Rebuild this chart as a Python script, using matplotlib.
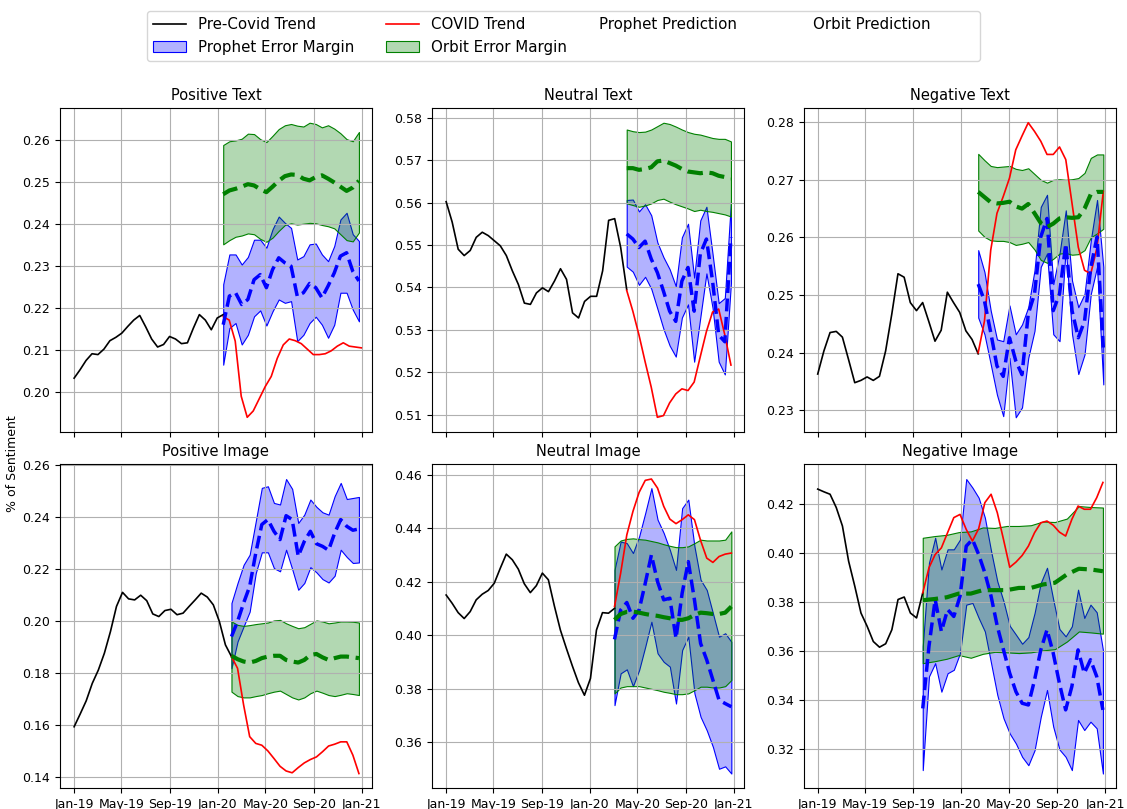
import matplotlib
matplotlib.use("Agg")
import matplotlib.pyplot as plt
import matplotlib.dates as mdates
import pandas as pd
from matplotlib.lines import Line2D
from matplotlib.legend_handler import HandlerBase

# ---------------- Positive Text ----------------
pos_text_pre_span = ("2019-01-01", "2020-01-15")
pos_text_pre = [0.2033, 0.2053, 0.2075, 0.2091, 0.2089, 0.2102, 0.2122, 0.2130, 0.2140,
                0.2156, 0.2171, 0.2182, 0.2155, 0.2126, 0.2107, 0.2113, 0.2132, 0.2126,
                0.2115, 0.2117, 0.2152, 0.2184, 0.2171, 0.2148, 0.2176, 0.2184]
pos_text_covid_span = ("2020-01-15", "2020-12-31")
pos_text_covid = [0.2179, 0.2171, 0.2121, 0.1990, 0.1940, 0.1955, 0.1984, 0.2013, 0.2037,
                  0.2080, 0.2112, 0.2126, 0.2122, 0.2115, 0.2102, 0.2089, 0.2089, 0.2091,
                  0.2098, 0.2109, 0.2117, 0.2109, 0.2107, 0.2105]
pos_text_fc_span = ("2020-01-15", "2020-12-25")
pos_text_prophet = [0.2160, 0.2228, 0.2236, 0.2208, 0.2220, 0.2267, 0.2279, 0.2248, 0.2291,
                    0.2319, 0.2307, 0.2299, 0.2228, 0.2236, 0.2258, 0.2248, 0.2224, 0.2252,
                    0.2283, 0.2323, 0.2331, 0.2287, 0.2264]
pos_text_prophet_hi = [0.2256, 0.2327, 0.2327, 0.2303, 0.2321, 0.2362, 0.2362, 0.2343, 0.2387,
                       0.2417, 0.2402, 0.2390, 0.2315, 0.2323, 0.2351, 0.2353, 0.2327, 0.2311,
                       0.2347, 0.2410, 0.2426, 0.2375, 0.2359]
pos_text_prophet_lo = [0.2065, 0.2152, 0.2164, 0.2113, 0.2136, 0.2180, 0.2194, 0.2158, 0.2192,
                       0.2220, 0.2212, 0.2216, 0.2121, 0.2136, 0.2164, 0.2179, 0.2160, 0.2129,
                       0.2160, 0.2236, 0.2236, 0.2196, 0.2168]
pos_text_orbit = [0.2470, 0.2479, 0.2483, 0.2488, 0.2494, 0.2491, 0.2482, 0.2475, 0.2488,
                  0.2502, 0.2513, 0.2517, 0.2516, 0.2507, 0.2503, 0.2511, 0.2515, 0.2507,
                  0.2498, 0.2488, 0.2478, 0.2486, 0.2502]
pos_text_orbit_hi = [0.2587, 0.2596, 0.2598, 0.2602, 0.2614, 0.2613, 0.2601, 0.2594, 0.2609,
                     0.2625, 0.2634, 0.2637, 0.2633, 0.2631, 0.2640, 0.2637, 0.2629, 0.2634,
                     0.2626, 0.2615, 0.2601, 0.2596, 0.2618]
pos_text_orbit_lo = [0.2351, 0.2361, 0.2369, 0.2372, 0.2377, 0.2375, 0.2364, 0.2357, 0.2367,
                     0.2383, 0.2397, 0.2401, 0.2398, 0.2400, 0.2402, 0.2401, 0.2397, 0.2394,
                     0.2389, 0.2375, 0.2361, 0.2358, 0.2379]

# ---------------- Neutral Text ----------------
neu_text_pre_span = ("2019-01-01", "2020-04-04")
neu_text_pre = [0.5602, 0.5554, 0.5490, 0.5475, 0.5487, 0.5518, 0.5530, 0.5522, 0.5510,
                0.5498, 0.5475, 0.5439, 0.5407, 0.5363, 0.5360, 0.5387, 0.5399, 0.5390,
                0.5415, 0.5444, 0.5419, 0.5340, 0.5328, 0.5367, 0.5379, 0.5379, 0.5439,
                0.5558, 0.5562, 0.5494, 0.5395]
neu_text_covid_span = ("2020-04-04", "2020-12-25")
neu_text_covid = [0.5393, 0.5344, 0.5288, 0.5225, 0.5165, 0.5094, 0.5098, 0.5128, 0.5149,
                  0.5161, 0.5157, 0.5177, 0.5237, 0.5296, 0.5342, 0.5349, 0.5288, 0.5217]
neu_text_fc_span = ("2020-04-04", "2020-12-25")
neu_text_prophet = [0.5526, 0.5514, 0.5494, 0.5509, 0.5467, 0.5435, 0.5391, 0.5344, 0.5320,
                    0.5415, 0.5447, 0.5344, 0.5479, 0.5514, 0.5415, 0.5288, 0.5272, 0.5518]
neu_text_prophet_hi = [0.5606, 0.5607, 0.5579, 0.5596, 0.5570, 0.5506, 0.5471, 0.5443, 0.5403,
                       0.5518, 0.5550, 0.5423, 0.5558, 0.5590, 0.5479, 0.5363, 0.5375, 0.5602]
neu_text_prophet_lo = [0.5449, 0.5437, 0.5406, 0.5425, 0.5397, 0.5350, 0.5302, 0.5263, 0.5237,
                       0.5329, 0.5360, 0.5225, 0.5329, 0.5433, 0.5352, 0.5225, 0.5195, 0.5411]
neu_text_orbit = [0.5681, 0.5681, 0.5677, 0.5679, 0.5683, 0.5697, 0.5699, 0.5693, 0.5687,
                  0.5679, 0.5673, 0.5671, 0.5669, 0.5671, 0.5669, 0.5663, 0.5660, 0.5657]
neu_text_orbit_hi = [0.5772, 0.5768, 0.5766, 0.5767, 0.5772, 0.5780, 0.5788, 0.5785, 0.5779,
                     0.5772, 0.5766, 0.5762, 0.5760, 0.5756, 0.5752, 0.5750, 0.5750, 0.5744]
neu_text_orbit_lo = [0.5598, 0.5594, 0.5590, 0.5593, 0.5598, 0.5606, 0.5609, 0.5602, 0.5596,
                     0.5591, 0.5586, 0.5580, 0.5583, 0.5580, 0.5578, 0.5575, 0.5572, 0.5567]

# ---------------- Negative Text ----------------
neg_text_pre_span = ("2019-01-01", "2020-02-13")
neg_text_pre = [0.2363, 0.2403, 0.2435, 0.2437, 0.2427, 0.2388, 0.2348, 0.2352, 0.2358,
                0.2352, 0.2359, 0.2403, 0.2467, 0.2537, 0.2531, 0.2487, 0.2473, 0.2487,
                0.2454, 0.2420, 0.2439, 0.2505, 0.2487, 0.2470, 0.2438, 0.2423, 0.2398]
neg_text_covid_span = ("2020-02-13", "2020-12-27")
neg_text_covid = [0.2400, 0.2455, 0.2578, 0.2642, 0.2671, 0.2703, 0.2752, 0.2776, 0.2799,
                  0.2784, 0.2767, 0.2744, 0.2744, 0.2757, 0.2735, 0.2659, 0.2583, 0.2543,
                  0.2537, 0.2583, 0.2680]
neg_text_fc_span = ("2020-02-13", "2020-12-27")
neg_text_prophet = [0.2519, 0.2490, 0.2435, 0.2377, 0.2359, 0.2426, 0.2386, 0.2362, 0.2467,
                    0.2502, 0.2601, 0.2633, 0.2473, 0.2502, 0.2589, 0.2473, 0.2426, 0.2455,
                    0.2548, 0.2601, 0.2409]
neg_text_prophet_hi = [0.2578, 0.2540, 0.2473, 0.2423, 0.2420, 0.2482, 0.2432, 0.2449, 0.2479,
                       0.2543, 0.2653, 0.2674, 0.2519, 0.2572, 0.2647, 0.2525, 0.2479, 0.2502,
                       0.2595, 0.2665, 0.2549]
neg_text_prophet_lo = [0.2461, 0.2432, 0.2380, 0.2327, 0.2290, 0.2391, 0.2288, 0.2305, 0.2391,
                       0.2438, 0.2549, 0.2572, 0.2432, 0.2420, 0.2583, 0.2432, 0.2363, 0.2397,
                       0.2502, 0.2549, 0.2345]
neg_text_orbit = [0.2679, 0.2670, 0.2661, 0.2659, 0.2660, 0.2662, 0.2654, 0.2650, 0.2658,
                  0.2642, 0.2625, 0.2618, 0.2624, 0.2633, 0.2635, 0.2634, 0.2635, 0.2650,
                  0.2675, 0.2679, 0.2679]
neg_text_orbit_hi = [0.2745, 0.2734, 0.2724, 0.2722, 0.2723, 0.2724, 0.2719, 0.2717, 0.2720,
                     0.2710, 0.2700, 0.2695, 0.2700, 0.2701, 0.2700, 0.2701, 0.2703, 0.2712,
                     0.2738, 0.2744, 0.2744]
neg_text_orbit_lo = [0.2612, 0.2601, 0.2595, 0.2594, 0.2594, 0.2592, 0.2587, 0.2589, 0.2592,
                     0.2579, 0.2561, 0.2556, 0.2563, 0.2572, 0.2573, 0.2570, 0.2571, 0.2578,
                     0.2600, 0.2607, 0.2615]

# ---------------- Positive Image ----------------
pos_img_pre_span = ("2019-01-01", "2020-02-05")
pos_img_pre = [0.1595, 0.1644, 0.1695, 0.1762, 0.1813, 0.1878, 0.1961, 0.2058, 0.2112,
               0.2087, 0.2083, 0.2101, 0.2080, 0.2029, 0.2019, 0.2042, 0.2047, 0.2026,
               0.2032, 0.2058, 0.2083, 0.2109, 0.2094, 0.2064, 0.2000, 0.1910, 0.1865]
pos_img_covid_span = ("2020-02-05", "2020-12-25")
pos_img_covid = [0.1865, 0.1820, 0.1679, 0.1557, 0.1531, 0.1524, 0.1502, 0.1473, 0.1443,
                 0.1425, 0.1418, 0.1438, 0.1456, 0.1469, 0.1479, 0.1499, 0.1521, 0.1528,
                 0.1537, 0.1537, 0.1486, 0.1415]
pos_img_fc_span = ("2020-02-05", "2020-12-25")
pos_img_prophet = [0.1942, 0.2000, 0.2071, 0.2135, 0.2263, 0.2373, 0.2392, 0.2347, 0.2315,
                   0.2407, 0.2392, 0.2251, 0.2308, 0.2347, 0.2299, 0.2289, 0.2274, 0.2340,
                   0.2392, 0.2366, 0.2351, 0.2356]
pos_img_prophet_hi = [0.2071, 0.2148, 0.2218, 0.2257, 0.2385, 0.2514, 0.2520, 0.2456, 0.2450,
                      0.2548, 0.2510, 0.2379, 0.2411, 0.2469, 0.2441, 0.2420, 0.2411, 0.2482,
                      0.2533, 0.2471, 0.2475, 0.2479]
pos_img_prophet_lo = [0.1820, 0.1923, 0.1981, 0.2038, 0.2186, 0.2266, 0.2266, 0.2205, 0.2193,
                      0.2276, 0.2202, 0.2122, 0.2148, 0.2209, 0.2189, 0.2163, 0.2150, 0.2176,
                      0.2276, 0.2248, 0.2225, 0.2227]
pos_img_orbit = [0.1868, 0.1855, 0.1846, 0.1842, 0.1848, 0.1859, 0.1865, 0.1868, 0.1868,
                 0.1852, 0.1846, 0.1842, 0.1852, 0.1871, 0.1875, 0.1862, 0.1852, 0.1859,
                 0.1865, 0.1865, 0.1862, 0.1859]
pos_img_orbit_hi = [0.2000, 0.1987, 0.1983, 0.1986, 0.1990, 0.1993, 0.1996, 0.2004, 0.2006,
                    0.1993, 0.1983, 0.1974, 0.1978, 0.1991, 0.2004, 0.2000, 0.1993, 0.1996,
                    0.2000, 0.2000, 0.1999, 0.1996]
pos_img_orbit_lo = [0.1730, 0.1713, 0.1708, 0.1708, 0.1713, 0.1717, 0.1724, 0.1730, 0.1734,
                    0.1721, 0.1708, 0.1700, 0.1708, 0.1724, 0.1734, 0.1726, 0.1717, 0.1713,
                    0.1718, 0.1724, 0.1721, 0.1717]

# ---------------- Neutral Image ----------------
neu_img_pre_span = ("2019-01-01", "2020-03-04")
neu_img_pre = [0.4151, 0.4120, 0.4085, 0.4063, 0.4089, 0.4133, 0.4154, 0.4168, 0.4195,
               0.4251, 0.4304, 0.4283, 0.4248, 0.4193, 0.4160, 0.4186, 0.4233, 0.4208,
               0.4110, 0.4020, 0.3951, 0.3885, 0.3823, 0.3776, 0.3839, 0.4020, 0.4085,
               0.4083, 0.4101]
neu_img_covid_span = ("2020-03-04", "2020-12-26")
neu_img_covid = [0.4108, 0.4233, 0.4376, 0.4464, 0.4535, 0.4580, 0.4585, 0.4551, 0.4483,
                 0.4435, 0.4418, 0.4433, 0.4451, 0.4433, 0.4355, 0.4289, 0.4273, 0.4295,
                 0.4304, 0.4308]
neu_img_fc_span = ("2020-03-04", "2020-12-26")
neu_img_prophet = [0.3985, 0.4095, 0.4123, 0.4064, 0.4095, 0.4195, 0.4301, 0.4201, 0.4133,
                   0.4139, 0.3989, 0.4158, 0.4276, 0.4133, 0.3970, 0.3908, 0.3833, 0.3758,
                   0.3745, 0.3733]
neu_img_prophet_hi = [0.4245, 0.4351, 0.4345, 0.4308, 0.4370, 0.4458, 0.4551, 0.4433, 0.4383,
                      0.4320, 0.4245, 0.4476, 0.4508, 0.4333, 0.4208, 0.4170, 0.4083, 0.3995,
                      0.4008, 0.3976]
neu_img_prophet_lo = [0.3739, 0.3858, 0.3873, 0.3810, 0.3870, 0.3958, 0.4051, 0.3933, 0.3901,
                      0.3883, 0.3745, 0.3945, 0.3995, 0.3783, 0.3695, 0.3645, 0.3583, 0.3501,
                      0.3510, 0.3483]
neu_img_orbit = [0.4058, 0.4080, 0.4088, 0.4089, 0.4085, 0.4080, 0.4076, 0.4073, 0.4068,
                 0.4064, 0.4058, 0.4058, 0.4064, 0.4076, 0.4085, 0.4083, 0.4080, 0.4080,
                 0.4085, 0.4108]
neu_img_orbit_hi = [0.4333, 0.4355, 0.4361, 0.4363, 0.4360, 0.4358, 0.4353, 0.4348, 0.4341,
                    0.4335, 0.4330, 0.4330, 0.4333, 0.4345, 0.4358, 0.4355, 0.4355, 0.4355,
                    0.4358, 0.4389]
neu_img_orbit_lo = [0.3783, 0.3805, 0.3810, 0.3810, 0.3810, 0.3805, 0.3800, 0.3795, 0.3789,
                    0.3785, 0.3780, 0.3780, 0.3783, 0.3795, 0.3808, 0.3808, 0.3805, 0.3805,
                    0.3810, 0.3833]

# ---------------- Negative Image ----------------
neg_img_pre_span = ("2019-01-01", "2019-09-25")
neg_img_pre = [0.4259, 0.4248, 0.4238, 0.4184, 0.4109, 0.3966, 0.3864, 0.3755, 0.3701,
               0.3639, 0.3616, 0.3630, 0.3687, 0.3810, 0.3820, 0.3755, 0.3735, 0.3837]
neg_img_covid_span = ("2019-09-25", "2020-12-26")
neg_img_covid = [0.3837, 0.3939, 0.3993, 0.4020, 0.4082, 0.4143, 0.4156, 0.4095, 0.4048,
                 0.4098, 0.4204, 0.4238, 0.4163, 0.4054, 0.3941, 0.3962, 0.3989, 0.4027,
                 0.4082, 0.4122, 0.4129, 0.4112, 0.4084, 0.4068, 0.4136, 0.4190, 0.4177,
                 0.4177, 0.4224, 0.4286]
neg_img_fc_span = ("2019-09-25", "2020-12-26")
neg_img_prophet = [0.3367, 0.3619, 0.3810, 0.3680, 0.3769, 0.3741, 0.3823, 0.4027, 0.4054,
                   0.3993, 0.3918, 0.3823, 0.3701, 0.3605, 0.3510, 0.3435, 0.3388, 0.3381,
                   0.3483, 0.3605, 0.3687, 0.3592, 0.3469, 0.3361, 0.3456, 0.3605, 0.3510,
                   0.3565, 0.3497, 0.3361]
neg_img_prophet_hi = [0.3619, 0.3959, 0.4061, 0.3932, 0.4014, 0.4014, 0.4054, 0.4300, 0.4265,
                      0.4224, 0.4143, 0.4007, 0.3884, 0.3803, 0.3703, 0.3667, 0.3630, 0.3657,
                      0.3755, 0.3878, 0.3939, 0.3810, 0.3690, 0.3660, 0.3701, 0.3850, 0.3735,
                      0.3789, 0.3758, 0.3605]
neg_img_prophet_lo = [0.3116, 0.3497, 0.3551, 0.3435, 0.3510, 0.3524, 0.3592, 0.3789, 0.3796,
                      0.3735, 0.3680, 0.3551, 0.3422, 0.3327, 0.3265, 0.3224, 0.3170, 0.3136,
                      0.3197, 0.3333, 0.3442, 0.3293, 0.3200, 0.3170, 0.3116, 0.3320, 0.3279,
                      0.3313, 0.3286, 0.3102]
neg_img_orbit = [0.3807, 0.3812, 0.3819, 0.3834, 0.3834, 0.3848, 0.3848, 0.3848, 0.3857,
                 0.3857, 0.3871, 0.3878, 0.3912, 0.3935, 0.3932, 0.3925]
neg_img_orbit_hi = [0.4061, 0.4068, 0.4073, 0.4084, 0.4087, 0.4103, 0.4101, 0.4109, 0.4109,
                    0.4112, 0.4127, 0.4125, 0.4139, 0.4190, 0.4186, 0.4184]
neg_img_orbit_lo = [0.3551, 0.3559, 0.3569, 0.3584, 0.3573, 0.3589, 0.3597, 0.3595, 0.3592,
                    0.3595, 0.3603, 0.3608, 0.3639, 0.3680, 0.3676, 0.3671]

panel_titles = ["Positive Text", "Neutral Text", "Negative Text",
                "Positive Image", "Neutral Image", "Negative Image"]

panels = [
    (pos_text_pre_span, pos_text_pre, pos_text_covid_span, pos_text_covid, pos_text_fc_span,
     pos_text_prophet, pos_text_prophet_lo, pos_text_prophet_hi,
     pos_text_orbit, pos_text_orbit_lo, pos_text_orbit_hi),
    (neu_text_pre_span, neu_text_pre, neu_text_covid_span, neu_text_covid, neu_text_fc_span,
     neu_text_prophet, neu_text_prophet_lo, neu_text_prophet_hi,
     neu_text_orbit, neu_text_orbit_lo, neu_text_orbit_hi),
    (neg_text_pre_span, neg_text_pre, neg_text_covid_span, neg_text_covid, neg_text_fc_span,
     neg_text_prophet, neg_text_prophet_lo, neg_text_prophet_hi,
     neg_text_orbit, neg_text_orbit_lo, neg_text_orbit_hi),
    (pos_img_pre_span, pos_img_pre, pos_img_covid_span, pos_img_covid, pos_img_fc_span,
     pos_img_prophet, pos_img_prophet_lo, pos_img_prophet_hi,
     pos_img_orbit, pos_img_orbit_lo, pos_img_orbit_hi),
    (neu_img_pre_span, neu_img_pre, neu_img_covid_span, neu_img_covid, neu_img_fc_span,
     neu_img_prophet, neu_img_prophet_lo, neu_img_prophet_hi,
     neu_img_orbit, neu_img_orbit_lo, neu_img_orbit_hi),
    (neg_img_pre_span, neg_img_pre, neg_img_covid_span, neg_img_covid, neg_img_fc_span,
     neg_img_prophet, neg_img_prophet_lo, neg_img_prophet_hi,
     neg_img_orbit, neg_img_orbit_lo, neg_img_orbit_hi),
]


def dates(span, values):
    """Evenly spaced dates across a span, one per value."""
    return pd.date_range(span[0], span[1], periods=len(values))


fig, axes = plt.subplots(2, 3, sharex=True, figsize=(11.27, 8.09), dpi=100)

# axes boxes in figure fractions (left, bottom, width, height)
col_left = [0.0532, 0.3833, 0.7130]
row_bottom = [0.4660, 0.0256]
ax_w, ax_h = 0.2768, 0.4005

handles = {}
for i, (ax, title, p) in enumerate(zip(axes.flat, panel_titles, panels)):
    (pre_span, pre, cov_span, cov, fc_span,
     pr, pr_lo, pr_hi, ob, ob_lo, ob_hi) = p
    r, c = divmod(i, 3)
    ax.set_position([col_left[c], row_bottom[r], ax_w, ax_h])

    l_pre, = ax.plot(dates(pre_span, pre), pre, color="black", lw=1.2)
    l_cov, = ax.plot(dates(cov_span, cov), cov, color="red", lw=1.2)

    xp = dates(fc_span, pr)
    b_pr = ax.fill_between(xp, pr_lo, pr_hi, facecolor=(0, 0, 1, 0.3),
                           edgecolor="blue", lw=0.8)
    xo = dates(fc_span, ob)
    b_ob = ax.fill_between(xo, ob_lo, ob_hi, facecolor=(0, 0.5, 0, 0.3),
                           edgecolor="green", lw=0.8)
    ax.plot(xp, pr, "--", color="blue", lw=2.5)
    ax.plot(xo, ob, "--", color="green", lw=3)

    ax.set_title(title, fontsize=10.5)
    ax.grid(True)
    ax.tick_params(labelsize=9)
    if i == 0:
        handles = dict(pre=l_pre, cov=l_cov, b_pr=b_pr, b_ob=b_ob)

ax0 = axes[0, 0]
ax0.xaxis.set_major_locator(mdates.MonthLocator(bymonth=[1, 5, 9]))
ax0.xaxis.set_major_formatter(mdates.DateFormatter("%b-%y"))
ax0.set_xlim(pd.Timestamp("2018-11-26"), pd.Timestamp("2021-01-27"))

fig.text(0.0115, 0.427, "% of Sentiment", rotation=90, ha="center", va="center",
         fontsize=9)


class BlankHandler(HandlerBase):
    """Legend entry that shows only its label; optionally takes no handle space."""

    def __init__(self, collapse=False):
        super().__init__()
        self.collapse = collapse

    def legend_artist(self, legend, orig_handle, fontsize, handlebox):
        if self.collapse:
            handlebox.width = -legend.handletextpad * fontsize
        blank = Line2D([], [], linestyle="none")
        handlebox.add_artist(blank)
        return blank


prophet_key = Line2D([], [], linestyle="none")
orbit_key = Line2D([], [], linestyle="none")

leg_handles = [handles["pre"], handles["b_pr"], handles["cov"], handles["b_ob"],
               prophet_key, orbit_key]
leg_labels = ["Pre-Covid Trend", "Prophet Error Margin", "COVID Trend",
              "Orbit Error Margin", "Prophet Prediction", "Orbit Prediction" + " " * 9]
fig.legend(leg_handles, leg_labels, ncol=4, loc="upper center",
           bbox_to_anchor=(0.5, 0.9864), borderaxespad=0, fontsize=10.8,
           handlelength=2.2, handletextpad=0.8, columnspacing=2.1,
           handler_map={prophet_key: BlankHandler(collapse=True),
                        orbit_key: BlankHandler()})

fig.savefig("out.png", dpi=100)
